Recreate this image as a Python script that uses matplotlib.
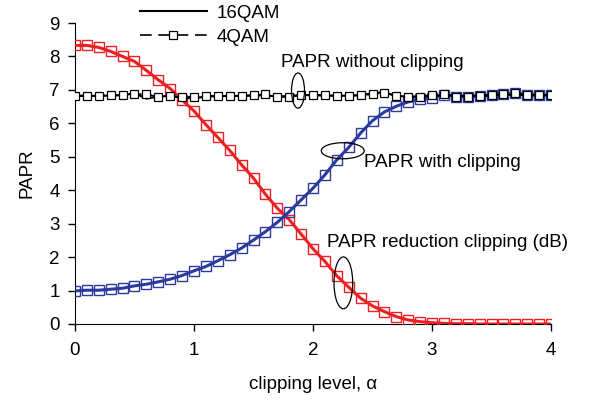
import numpy as np
import matplotlib
matplotlib.use("Agg")
import matplotlib.pyplot as plt
from matplotlib.patches import Ellipse

plt.rcParams['font.family'] = ['Liberation Sans', 'DejaVu Sans']

alpha = [round(0.1 * i, 1) for i in range(41)]

papr_reduction = [8.33, 8.33, 8.27, 8.15, 8.00, 7.85, 7.58, 7.30, 7.04, 6.70,
                  6.37, 5.96, 5.58, 5.19, 4.76, 4.36, 3.88, 3.46, 3.12, 2.69,
                  2.25, 1.87, 1.44, 1.10, 0.77, 0.54, 0.37, 0.22, 0.12, 0.07,
                  0.04, 0.02, 0.01, 0.01, 0.0, 0.0, 0.0, 0.0, 0.0, 0.0, 0.0]

papr_clip = [0.99, 1.01, 1.01, 1.04, 1.07, 1.14, 1.19, 1.26, 1.34, 1.45,
             1.59, 1.72, 1.89, 2.07, 2.27, 2.51, 2.76, 3.04, 3.36, 3.71,
             4.06, 4.46, 4.91, 5.28, 5.71, 6.08, 6.34, 6.51, 6.64, 6.73,
             6.75, 6.86, 6.80, 6.80, 6.81, 6.84, 6.87, 6.90, 6.86, 6.85, 6.84]

qam16 = [6.82, 6.82, 6.82, 6.83, 6.84, 6.90, 6.74, 6.80, 6.82, 6.76,
         6.75, 6.80, 6.81, 6.82, 6.82, 6.83, 6.84, 6.80, 6.82, 6.85,
         6.84, 6.83, 6.82, 6.83, 6.84, 6.90, 6.93, 6.82, 6.80, 6.80,
         6.82, 6.84, 6.82, 6.82, 6.83, 6.84, 6.86, 6.85, 6.84, 6.84, 6.84]

qam4 = [6.83, 6.83, 6.83, 6.84, 6.85, 6.87, 6.88, 6.78, 6.82, 6.78,
        6.80, 6.81, 6.82, 6.82, 6.83, 6.84, 6.87, 6.80, 6.78, 6.84,
        6.86, 6.84, 6.83, 6.82, 6.84, 6.87, 6.92, 6.81, 6.79, 6.78,
        6.84, 6.88, 6.80, 6.80, 6.82, 6.84, 6.87, 6.90, 6.86, 6.85, 6.84]

FS = 13.5

fig = plt.figure(figsize=(5.97, 4.0), dpi=100)
ax = fig.add_axes([0.1256, 0.19, 0.7974, 0.7525])

red = '#EE2024'
blue = '#2B3A9C'

ax.plot(alpha, papr_reduction, color=red, lw=2.2, marker='s', ms=7,
        mfc='none', mec=red, mew=1.0, zorder=3)
ax.plot(alpha, papr_clip, color=blue, lw=2.2, marker='s', ms=7,
        mfc='none', mec=blue, mew=1.0, zorder=3)
l16, = ax.plot(alpha, qam16, color='black', lw=1.5, label='16QAM', zorder=4)
l4, = ax.plot(alpha, qam4, color='black', lw=1.2, ls=(0, (7, 4)), marker='s',
              ms=5.5, mfc='white', mec='black', mew=0.9, label='4QAM', zorder=4)

for (cx, cy, w, h) in [(1.874, 6.98, 0.109, 1.05), (2.25, 5.18, 0.36, 0.48),
                       (2.255, 1.23, 0.157, 1.55)]:
    ax.add_patch(Ellipse((cx, cy), w, h, fill=False, ec='black', lw=0.9, zorder=5))

ax.text(1.73, 7.81, 'PAPR without clipping', fontsize=FS, va='center', ha='left')
ax.text(2.43, 4.82, 'PAPR with clipping', fontsize=FS, va='center', ha='left')
ax.text(2.12, 2.43, 'PAPR reduction clipping (dB)', fontsize=FS, va='center', ha='left')

ax.set_xlim(0, 4)
ax.set_ylim(0, 9)
ax.set_xticks([0, 1, 2, 3, 4])
ax.set_yticks(range(10))
ax.tick_params(labelsize=FS, direction='out', length=5, width=1, colors='black')
ax.tick_params(axis='x', pad=8)
ax.tick_params(axis='y', pad=6)
ax.spines['top'].set_visible(False)
ax.spines['right'].set_visible(False)
ax.set_xlabel('clipping level, \u03b1', fontsize=FS, labelpad=12)
ax.set_ylabel('PAPR', fontsize=FS, labelpad=10)

leg = ax.legend(handles=[l16, l4], loc='upper left', bbox_to_anchor=(0.12, 1.085),
                frameon=False, fontsize=FS, handlelength=3.6, labelspacing=0.35,
                handletextpad=0.5, borderaxespad=0, numpoints=1)

fig.savefig('out.png', dpi=100)
